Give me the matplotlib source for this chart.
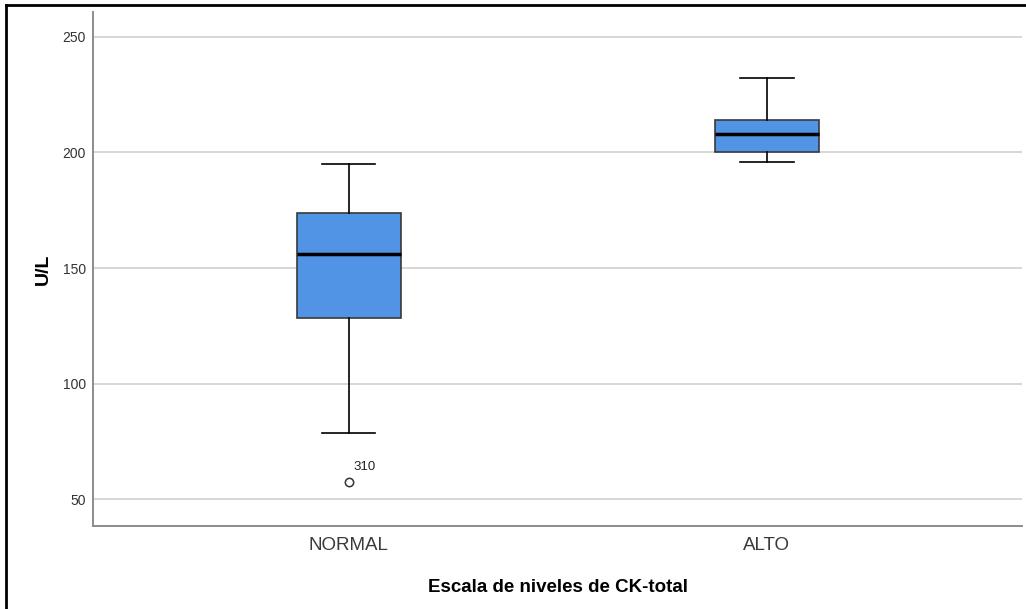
import matplotlib.pyplot as plt

plt.rcParams["font.family"] = ["Liberation Sans", "DejaVu Sans"]

# Five-number summaries per CK-total level (U/L)
groups = ["NORMAL", "ALTO"]
whisker_low = [78.8, 196.0]
q1 = [128.5, 200.2]
median = [155.9, 207.9]
q3 = [173.6, 213.9]
whisker_high = [195.0, 232.0]
outliers = [[57.6], []]
outlier_ids = [["310"], []]

BOX_FILL = "#5193e4"
GRID = "#d6d6d6"
SPINE = "#8c8c8c"
TICK_TXT = "#333333"

fig = plt.figure(figsize=(10.26, 6.09), dpi=100)
ax = fig.add_axes([93 / 1026, 1 - 526 / 609, (1022 - 93) / 1026, (526 - 12) / 609])

stats = [
    dict(label=g, whislo=lo, q1=a, med=m, q3=b, whishi=hi, fliers=fl)
    for g, lo, a, m, b, hi, fl in zip(groups, whisker_low, q1, median, q3, whisker_high, outliers)
]
ax.bxp(
    stats,
    positions=[1, 2],
    widths=0.25,
    patch_artist=True,
    boxprops=dict(facecolor=BOX_FILL, edgecolor="#3a3a3a", linewidth=1.2),
    medianprops=dict(color="black", linewidth=2.5),
    whiskerprops=dict(color="black", linewidth=1.2),
    capprops=dict(color="black", linewidth=1.2),
    capwidths=0.127,
    flierprops=dict(marker="o", markersize=6, markerfacecolor="white",
                    markeredgecolor="#333333", markeredgewidth=1.1),
    zorder=3,
)

# outlier case numbers
for pos, vals, ids in zip([1, 2], outliers, outlier_ids):
    for v, lab in zip(vals, ids):
        ax.annotate(lab, (pos, v), xytext=(3, 6), textcoords="offset points",
                    fontsize=9.5, color="#222222", ha="left", va="bottom")

ax.set_xlim(0.388, 2.61)
ax.set_ylim(38.5, 260.7)
ax.set_yticks([50, 100, 150, 200, 250])
ax.yaxis.grid(True, color=GRID, linewidth=1.4, zorder=0)
ax.set_axisbelow(True)

ax.tick_params(axis="y", length=0, pad=5, labelsize=10, labelcolor=TICK_TXT)
ax.tick_params(axis="x", length=0, pad=8, labelsize=13.5, labelcolor="#3a3a3a")

for s in ("top", "right"):
    ax.spines[s].set_visible(False)
for s in ("left", "bottom"):
    ax.spines[s].set_color(SPINE)
    ax.spines[s].set_linewidth(1.4)

ax.set_ylabel("U/L", fontsize=14, fontweight="bold", labelpad=8)
ax.set_xlabel("Escala de niveles de CK-total", fontsize=13.5, fontweight="bold", labelpad=18)

# frame along the left and top edges
fig.add_artist(plt.Line2D([5.5 / 1026, 5.5 / 1026], [0, 1 - 4.5 / 609],
                          color="black", linewidth=2, transform=fig.transFigure))
fig.add_artist(plt.Line2D([5.5 / 1026, 1], [1 - 4.5 / 609, 1 - 4.5 / 609],
                          color="black", linewidth=2, transform=fig.transFigure))

fig.savefig("out.png", dpi=100, facecolor="white")
